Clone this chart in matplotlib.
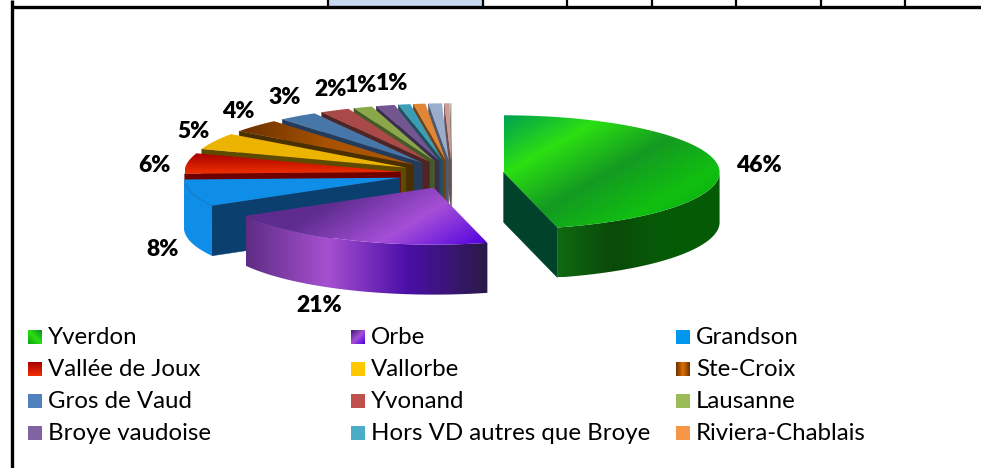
import numpy as np
import matplotlib
matplotlib.use('Agg')
import matplotlib.pyplot as plt
from matplotlib.colors import LinearSegmentedColormap
from matplotlib.patches import Polygon, Rectangle

plt.rcParams['font.family'] = ['Lato', 'DejaVu Sans']

categories = ['Yverdon', 'Orbe', 'Grandson', 'Vallée de Joux', 'Vallorbe', 'Ste-Croix',
              'Gros de Vaud', 'Yvonand', 'Lausanne', 'Broye vaudoise',
              'Hors VD autres que Broye', 'Riviera-Chablais']
values = [46.0, 20.8, 7.7, 5.8, 4.7, 3.8, 2.9, 2.2, 1.4, 1.4, 0.9, 0.9, 1.0, 0.4, 0.1]
pct_labels = ['46%', '21%', '8%', '6%', '5%', '4%', '3%', '2%', '1%', '1%']

top_colors = ['#2be012', '#a64fd0', '#0f8ee8', '#e02000', '#ecb400', '#a85200',
              '#4677a8', '#aa4a48', '#8aa84a', '#73568f', '#3d9db5', '#e08636',
              '#9aadcc', '#d09a98', '#c4d4a0']
wall_colors = ['#00432a', '#2a1a48', '#0a3f6e', '#700000', '#5e4a00', '#4a3000',
               '#243c5c', '#4f2424', '#465a28', '#3c2c50', '#1e5060', '#704018',
               '#505a6c', '#6c5050', '#606a50']
swatch_colors = [None, None, '#0098ee', None, '#ffc800', None, '#4f81bd', '#c0504d',
                 '#9bbb59', '#8064a2', '#4bacc6', '#f79646']

RX, RY, DEPTH, EXPLODE = 216, 57, 50, 52
CX, CY = 452, 174
nudge_x = {1: 2, 2: -2}
nudge_y = {1: 1}

fig = plt.figure(figsize=(9.81, 4.68), dpi=100)
ax = fig.add_axes([0, 0, 1, 1])


def arc(t, cx, cy, r=1.0):
    return cx + r * RX * np.sin(t), cy - r * RY * np.cos(t)


def grad_fill(verts, colors, direction):
    # gradient image clipped to a polygon
    verts = np.array(verts)
    x0, y0 = verts.min(axis=0)
    x1, y1 = verts.max(axis=0)
    xx, yy = np.meshgrid(np.linspace(x0, x1, 160), np.linspace(y0, y1, 160))
    s = xx * direction[0] + yy * direction[1]
    s = (s - s.min()) / (s.max() - s.min())
    cmap = LinearSegmentedColormap.from_list('g', colors)
    im = ax.imshow(s, extent=[x0, x1, y1, y0], cmap=cmap, vmin=0, vmax=1, aspect='auto',
                   interpolation='bilinear', zorder=2)
    im.set_clip_path(Polygon(verts, transform=ax.transData))


top_grads = {
    0: (['#00a050', '#2be012', '#149a22', '#10c010', '#0aa010'], (170, 300)),
    1: (['#5a2a8a', '#5f2d90', '#a64fd8', '#5000e0'], (60, 100)),
    3: (['#a80000', '#f03000'], (0, 1)),
    5: (['#6a3000', '#a85200', '#b05800'], (1, 0.3)),
}
wall_grads = {
    0: ['#106a10', '#0a4a0a', '#065c06', '#055a05'],
    1: ['#5f2d85', '#a650d0', '#4b0fa8', '#2a1a48'],
    2: ['#0f8ee8', '#0f8ee8'],
    3: ['#a00000', '#800000'],
}

edges = np.radians(np.concatenate([[0], np.cumsum(values)]) * 3.6)
# back slices first, Orbe and Yverdon last
order = list(range(len(values) - 1, 0, -1)) + [0]

for i in order:
    t1, t2 = edges[i], edges[i + 1]
    mid = (t1 + t2) / 2
    ox = CX + EXPLODE * np.sin(mid) + nudge_x.get(i, 0)
    oy = CY - EXPLODE * RY / RX * np.cos(mid) + nudge_y.get(i, 0)
    ts = np.linspace(t1, t2, 60)
    xs, ys = arc(ts, ox, oy)
    top = [(ox, oy)] + list(zip(xs, ys))

    # radial walls that face the viewer
    if t2 < np.pi:
        ex, ey = arc(t2, ox, oy)
        ax.add_patch(Polygon([(ox, oy), (ex, ey), (ex, ey + DEPTH), (ox, oy + DEPTH)],
                             fc=wall_colors[i], ec=wall_colors[i], lw=0.3, zorder=2))
    if t1 > np.pi:
        ex, ey = arc(t1, ox, oy)
        ax.add_patch(Polygon([(ox, oy), (ex, ey), (ex, ey + DEPTH), (ox, oy + DEPTH)],
                             fc=wall_colors[i], ec=wall_colors[i], lw=0.3, zorder=2))

    # outer wall
    a, b = max(t1, np.pi / 2), min(t2, 3 * np.pi / 2)
    if a < b:
        ws = np.linspace(a, b, 60)
        wx, wy = arc(ws, ox, oy)
        wall = list(zip(wx, wy)) + list(zip(wx[::-1], wy[::-1] + DEPTH))
        colors = wall_grads.get(i, [wall_colors[i], wall_colors[i]])
        grad_fill(wall, colors, (1, 0))

    if i in top_grads:
        grad_fill(top, top_grads[i][0], top_grads[i][1])
    else:
        ax.add_patch(Polygon(top, fc=top_colors[i], ec='none', zorder=2))

# data labels
label_x = [759, 319, 163, 154, 193, 238, 285, 331, 361, 392]
label_y = [166, 305, 249, 166, 132, 111, 98, 90, 86, 83]
for txt, x, y in zip(pct_labels, label_x, label_y):
    ax.text(x, y, txt, fontsize=16.5, fontweight='heavy', ha='center', va='center',
            color='black', zorder=5)

# legend
legend_x = [28, 351, 676]
legend_y = [337, 369, 401, 433]
swatch_grads = {
    0: (['#0aa010', '#2be012', '#0a8a20'], (1, -1)),
    1: (['#3c1c70', '#a64fd8', '#4a00e0'], (1, 1)),
    3: (['#a80000', '#f03000'], (0, 1)),
    5: (['#6a3000', '#e07000', '#6a3000'], (1, 0)),
}
for i, name in enumerate(categories):
    x = legend_x[i % 3]
    y = legend_y[i // 3]
    sq = [(x, y - 7), (x + 14, y - 7), (x + 14, y + 7), (x, y + 7)]
    if i in swatch_grads:
        grad_fill(sq, swatch_grads[i][0], swatch_grads[i][1])
    else:
        ax.add_patch(Rectangle((x, y - 7), 14, 14, fc=swatch_colors[i], ec='none', zorder=3))
    ax.text(x + 20, y + 0.5, name, fontsize=17.3, va='center', ha='left', color='black', zorder=5)

# bit of the worksheet table around the chart
ax.add_patch(Rectangle((329, 0), 154, 6, fc='#c5d9f1', ec='none', zorder=1))
ax.plot([12, 981], [7, 7], color='black', lw=2.4, solid_capstyle='butt', zorder=4)
ax.plot([12, 12], [0, 468], color='black', lw=2.4, solid_capstyle='butt', zorder=4)
for x in [328, 483, 567, 652, 736, 821, 905]:
    ax.plot([x, x], [0, 7], color='black', lw=1.6, solid_capstyle='butt', zorder=4)

ax.set_xlim(0, 981)
ax.set_ylim(468, 0)
ax.axis('off')
fig.savefig('out.png', dpi=100)
